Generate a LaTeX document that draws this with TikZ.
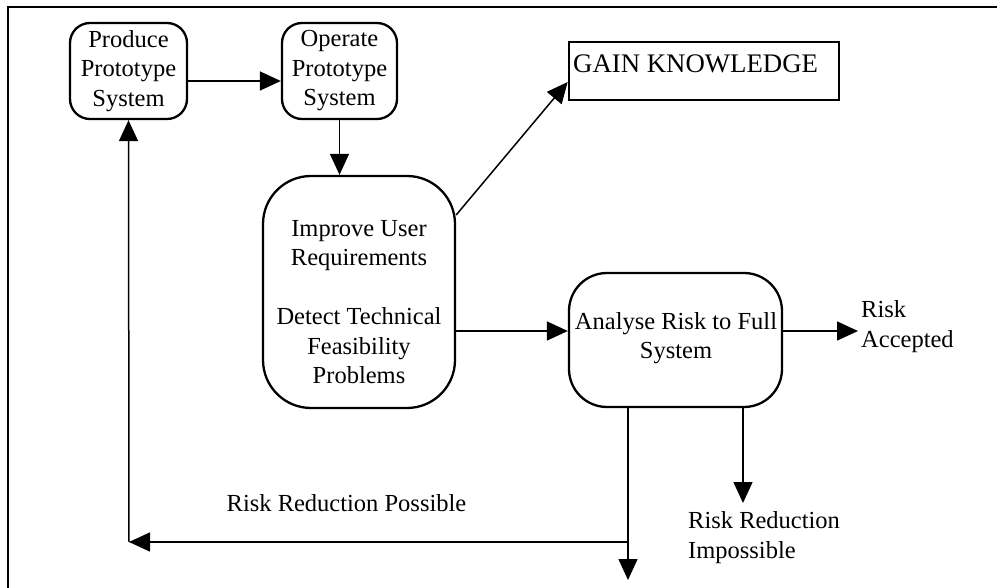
\documentclass[tikz,border=0pt]{standalone}
\usepackage{fontspec}
\setmainfont{Liberation Serif}
\usetikzlibrary{arrows.meta,calc}
\begin{document}
\begin{tikzpicture}[x=1pt,y=-1pt,
  every node/.style={font=\fontsize{24.5}{29.5}\selectfont},
  rbox/.style={draw,line width=2.3pt,inner sep=0pt},
  txt/.style={inner sep=0pt,align=center},
  ltxt/.style={inner sep=0pt,align=left,anchor=west},
  conn/.style={line width=1.5pt},
  arr/.style={conn,-{Triangle[length=21pt,width=19pt]}}]
\useasboundingbox (0,0) rectangle (997,588);
% frame
\draw[line width=2.5pt] (8,600) -- (8,7) -- (1010,7);
% nodes
\node[rbox,rounded corners=20pt,minimum width=117pt,minimum height=96pt,txt] (produce) at (128.5,71) {Produce\\Prototype\\System};
\node[rbox,rounded corners=20pt,minimum width=115pt,minimum height=96pt,txt] (operate) at (339.5,71) {Operate\\Prototype\\System};
\node[rbox,rounded corners=48pt,minimum width=192pt,minimum height=232pt] (improve) at (359,292) {};
\node[txt] (improvetxt) at (359,302) {Improve User\\Requirements\\[29.5pt]Detect Technical\\Feasibility\\Problems};
\node[draw,line width=2.6pt,minimum width=270pt,minimum height=58pt,inner sep=0pt] (gain) at (704,71) {};
\node[inner sep=0pt,anchor=base west,font=\fontsize{26.8}{32}\selectfont] (gaintxt) at (573,73) {GAIN KNOWLEDGE};
\node[rbox,rounded corners=38pt,minimum width=213pt,minimum height=134pt] (analyse) at (675.5,340) {};
\node[txt] (analysetxt) at (676,338) {Analyse Risk to Full\\System};
\node[ltxt] (accepted) at (861,326.5) {Risk\\Accepted};
\node[ltxt] (impossible) at (688,537.5) {Risk Reduction\\Impossible};
\node[txt] (possible) at (346.5,503) {Risk Reduction Possible};
% free-end coordinates
\coordinate (accEnd) at (858,331);
\coordinate (impEnd) at (743,503);
\coordinate (downEnd) at (628,580);
\coordinate (split) at (628,542);
\coordinate (corner) at (129,542);
% connectors
\draw[arr] ($(produce.east)+(0,10)$) -- ($(operate.west)+(0,10)$);
\draw[arr] (operate.south) -- (operate.south |- improve.north);
\draw[arr] ($(improve.east)+(0,-77)$) -- ($(gain.west)+(0,11)$);
\draw[arr] ($(improve.east)+(0,39)$) -- ($(analyse.west)+(0,-9)$);
\draw[arr] ($(analyse.east)+(0,-9)$) -- (accEnd);
\draw[arr] (impEnd |- analyse.south) -- (impEnd);
\draw[arr] (downEnd |- analyse.south) -- (downEnd);
\draw[arr] (split) -- (corner);
\draw[arr] (corner) -- (produce.south);
\end{tikzpicture}
\end{document}
